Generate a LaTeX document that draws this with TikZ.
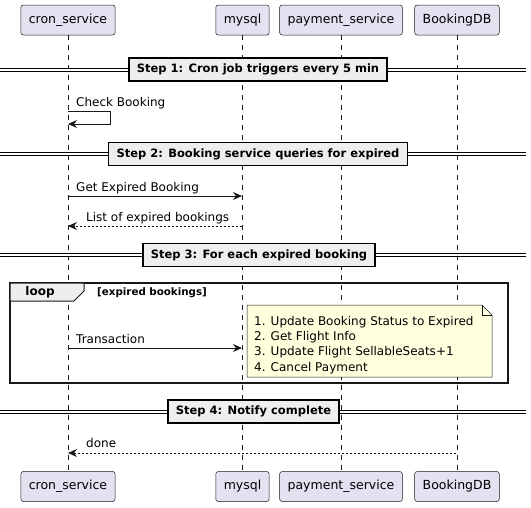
\documentclass[tikz,border=0pt]{standalone}
\usepackage{fontspec}
\setmainfont{DejaVu Sans}
\usetikzlibrary{arrows.meta}
\definecolor{partfill}{HTML}{E2E2F0}
\definecolor{linegray}{HTML}{181818}
\definecolor{stepfill}{HTML}{EEEEEE}
\definecolor{notefill}{HTML}{FEFFDD}
\begin{document}
\begin{tikzpicture}[x=1pt,y=-1pt,>={Stealth[length=9pt,width=8pt,inset=3pt]}]
	\tikzstyle{party}=[rectangle,rounded corners=2.5pt,draw=linegray,line width=0.5pt,fill=partfill,minimum height=30pt,inner xsep=8pt,text height=9pt,text depth=3pt,font=\fontsize{12.5}{14}\selectfont]
	\tikzstyle{life}=[draw=linegray,line width=0.5pt,dash pattern=on 5pt off 5pt]
	\tikzstyle{stepbox}=[rectangle,draw=black,line width=1.5pt,fill=stepfill,minimum height=23pt,inner xsep=8pt,font=\fontsize{11.5}{14}\bfseries\selectfont]
	\tikzstyle{sep}=[draw=black,double=white,double distance=2pt,line width=1pt]
	\tikzstyle{msg}=[anchor=base west,inner sep=0pt,font=\fontsize{12}{14}\selectfont]
	\tikzstyle{call}=[->,draw=linegray,line width=1pt]
	\tikzstyle{reply}=[->,draw=linegray,line width=1pt,dash pattern=on 2pt off 2pt]
	\useasboundingbox (0,0) rectangle (531,507);

	\node[party] (T1) at (68,20) {cron\_service};
	\node[party] (T2) at (242.5,20) {mysql};
	\node[party] (T3) at (341,20) {payment\_service};
	\node[party] (T4) at (457,20) {BookingDB};
	\node[party] (B1) at (68,486.5) {cron\_service};
	\node[party] (B2) at (242.5,486.5) {mysql};
	\node[party] (B3) at (341,486.5) {payment\_service};
	\node[party] (B4) at (457,486.5) {BookingDB};

	\draw[life] (T1.south) -- (B1.north);
	\draw[life] (T2.south) -- (B2.north);
	\draw[life] (T3.south) -- (B3.north);
	\draw[life] (T4.south) -- (B4.north);

	% separators
	\coordinate (E1) at (0,69.5);
	\coordinate (F1) at (526,69.5);
	\draw[sep] (E1) -- (F1);
	\node[stepbox] (S1) at (258,69.5) {Step 1: Cron job triggers every 5 min};
	\coordinate (E2) at (0,154);
	\coordinate (F2) at (526,154);
	\draw[sep] (E2) -- (F2);
	\node[stepbox] (S2) at (258,154) {Step 2: Booking service queries for expired};
	\coordinate (E3) at (0,255);
	\coordinate (F3) at (526,255);
	\draw[sep] (E3) -- (F3);
	\node[stepbox] (S3) at (259,255) {Step 3: For each expired booking};
	\coordinate (E4) at (0,411.5);
	\coordinate (F4) at (526,411.5);
	\draw[sep] (E4) -- (F4);
	\node[stepbox] (S4) at (253.5,411.5) {Step 4: Notify complete};

	% messages
	\coordinate (M1) at (68,111);
	\coordinate (M2) at (68,124);
	\node[msg] (L1) at (76,106) {Check Booking};
	\draw[call] (M1) -- ++(42,0) -- ++(0,13) -- (M2);

	\coordinate (M3) at (68,196);
	\coordinate (M4) at (242,196);
	\node[msg] (L2) at (76,191) {Get Expired Booking};
	\draw[call] (M3) -- (M4);

	\coordinate (M5) at (242,226);
	\coordinate (M6) at (68,226);
	\node[msg] (L3) at (86,221) {List of expired bookings};
	\draw[reply] (M5) -- (M6);

	% loop frame
	\draw[line width=1.5pt,draw=linegray] (10,283) rectangle (508,383);
	\filldraw[fill=stepfill,draw=linegray,line width=1pt] (10,283) -- (84,283) -- (84,291) -- (74,301) -- (10,301) -- cycle;
	\node[font=\fontsize{12}{14}\bfseries\selectfont,inner sep=0pt] (K1) at (40,292) {loop};
	\node[anchor=west,font=\fontsize{10.3}{12}\bfseries\selectfont,inner sep=0pt] (K2) at (97,293) {[expired bookings]};

	\coordinate (M7) at (68,348);
	\coordinate (M8) at (242,348);
	\node[msg] (L4) at (76,343) {Transaction};
	\draw[call] (M7) -- (M8);

	\filldraw[fill=notefill,draw=linegray,line width=0.5pt] (247,305) -- (482,305) -- (492,315) -- (492,377) -- (247,377) -- cycle;
	\draw[draw=linegray,line width=0.5pt] (482,305) -- (482,315) -- (492,315);
	\node[anchor=north west,inner sep=0pt,align=left,font=\fontsize{12}{15.3}\selectfont] (N1) at (254,316) {1. Update Booking Status to Expired\\2. Get Flight Info\\3. Update Flight SellableSeats+1\\4. Cancel Payment};

	\coordinate (M9) at (456,453);
	\coordinate (M10) at (68,453);
	\node[msg] (L5) at (86,447.5) {done};
	\draw[reply] (M9) -- (M10);
\end{tikzpicture}
\end{document}
